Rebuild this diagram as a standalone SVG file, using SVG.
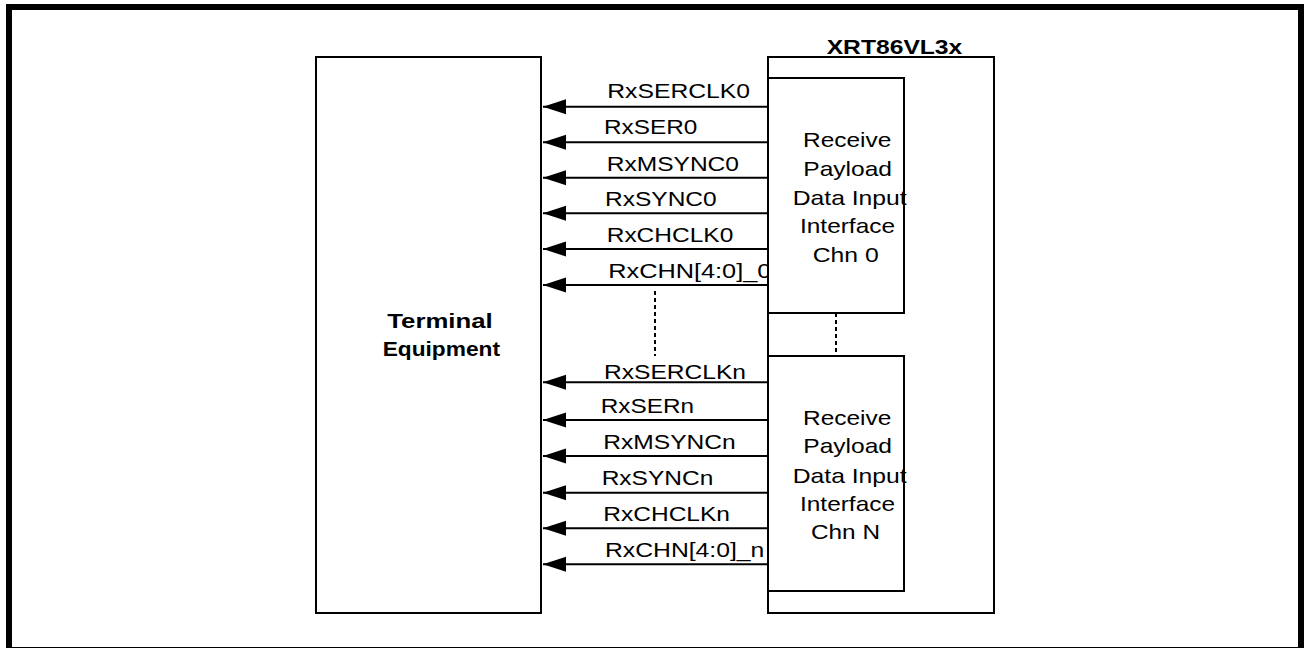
<svg xmlns="http://www.w3.org/2000/svg" width="1305" height="648" viewBox="0 0 1305 648">
<style>
.box{fill:none;stroke:#000;stroke-width:2}
.wbox{fill:#fff;stroke:#000;stroke-width:2}
.sig{stroke:#000;stroke-width:2;fill:none;marker-end:url(#ah)}
.dash{stroke:#000;stroke-width:2;stroke-dasharray:4 3;fill:none}
.t{font-family:"Liberation Sans",Arial,sans-serif;font-size:21px;fill:#000}
.b{font-weight:bold}
.m{text-anchor:middle}
</style>
<defs>
<marker id="ah" markerUnits="userSpaceOnUse" markerWidth="24" markerHeight="16" refX="23" refY="8" orient="auto">
<path d="M0,0.5 L23,8 L0,15.5 Z" fill="#000"/>
</marker>
</defs>
<rect x="9" y="7" width="1292" height="643" fill="#fff" stroke="#000" stroke-width="6"/>

<g id="terminal">
<rect class="box" x="316" y="57" width="225" height="556"/>
<text class="t b" x="387.3" y="328.3" textLength="105.4" lengthAdjust="spacingAndGlyphs">Terminal</text>
<text class="t b" x="382.7" y="355.5" textLength="117.3" lengthAdjust="spacingAndGlyphs">Equipment</text>
</g>

<g id="xrt">
<rect class="box" x="768" y="57" width="226" height="556"/>
<text class="t b" x="826.7" y="54.3" textLength="135.6" lengthAdjust="spacingAndGlyphs">XRT86VL3x</text>
</g>

<g id="connectors">
<line class="sig" x1="768" y1="106.7" x2="543" y2="106.7"/>
<line class="sig" x1="768" y1="142.3" x2="543" y2="142.3"/>
<line class="sig" x1="768" y1="177.7" x2="543" y2="177.7"/>
<line class="sig" x1="768" y1="213.3" x2="543" y2="213.3"/>
<line class="sig" x1="768" y1="249" x2="543" y2="249"/>
<line class="sig" x1="768" y1="285" x2="543" y2="285"/>
<line class="sig" x1="768" y1="382.3" x2="543" y2="382.3"/>
<line class="sig" x1="768" y1="420" x2="543" y2="420"/>
<line class="sig" x1="768" y1="456" x2="543" y2="456"/>
<line class="sig" x1="768" y1="492.7" x2="543" y2="492.7"/>
<line class="sig" x1="768" y1="528.3" x2="543" y2="528.3"/>
<line class="sig" x1="768" y1="564.3" x2="543" y2="564.3"/>
<line class="dash" x1="655" y1="291" x2="655" y2="356"/>
<line class="dash" x1="836" y1="313" x2="836" y2="356"/>
<text class="t" x="607.3" y="98.3" textLength="142.7" lengthAdjust="spacingAndGlyphs">RxSERCLK0</text>
<text class="t" x="604" y="134.3" textLength="93.3" lengthAdjust="spacingAndGlyphs">RxSER0</text>
<text class="t" x="606.7" y="170.7" textLength="132.3" lengthAdjust="spacingAndGlyphs">RxMSYNC0</text>
<text class="t" x="605" y="206" textLength="111.7" lengthAdjust="spacingAndGlyphs">RxSYNC0</text>
<text class="t" x="606.7" y="241.7" textLength="126.6" lengthAdjust="spacingAndGlyphs">RxCHCLK0</text>
<text class="t" x="608.3" y="277.7" textLength="163" lengthAdjust="spacingAndGlyphs">RxCHN[4:0]_0</text>
<text class="t" x="604" y="379.3" textLength="142" lengthAdjust="spacingAndGlyphs">RxSERCLKn</text>
<text class="t" x="600.7" y="413.3" textLength="93.3" lengthAdjust="spacingAndGlyphs">RxSERn</text>
<text class="t" x="603.3" y="449.3" textLength="132.4" lengthAdjust="spacingAndGlyphs">RxMSYNCn</text>
<text class="t" x="601.7" y="485.3" textLength="111.6" lengthAdjust="spacingAndGlyphs">RxSYNCn</text>
<text class="t" x="603.3" y="520.7" textLength="126.7" lengthAdjust="spacingAndGlyphs">RxCHCLKn</text>
<text class="t" x="605" y="556.7" textLength="159.3" lengthAdjust="spacingAndGlyphs">RxCHN[4:0]_n</text>
</g>

<g id="chn0">
<rect class="wbox" x="768" y="78" width="136" height="235"/>
<text class="t" x="803" y="147.3" textLength="88.3" lengthAdjust="spacingAndGlyphs">Receive</text>
<text class="t" x="803.3" y="175.7" textLength="88.7" lengthAdjust="spacingAndGlyphs">Payload</text>
<text class="t" x="792.7" y="205" textLength="114" lengthAdjust="spacingAndGlyphs">Data Input</text>
<text class="t" x="800" y="232.7" textLength="95" lengthAdjust="spacingAndGlyphs">Interface</text>
<text class="t" x="812.7" y="261.7" textLength="66" lengthAdjust="spacingAndGlyphs">Chn 0</text>
</g>

<g id="chnN">
<rect class="wbox" x="768" y="356" width="136" height="235"/>
<text class="t" x="803" y="425" textLength="88.3" lengthAdjust="spacingAndGlyphs">Receive</text>
<text class="t" x="803.3" y="453.3" textLength="88.7" lengthAdjust="spacingAndGlyphs">Payload</text>
<text class="t" x="792.7" y="482.7" textLength="114" lengthAdjust="spacingAndGlyphs">Data Input</text>
<text class="t" x="800" y="511" textLength="95" lengthAdjust="spacingAndGlyphs">Interface</text>
<text class="t" x="811" y="539.3" textLength="69" lengthAdjust="spacingAndGlyphs">Chn N</text>
</g>
</svg>
